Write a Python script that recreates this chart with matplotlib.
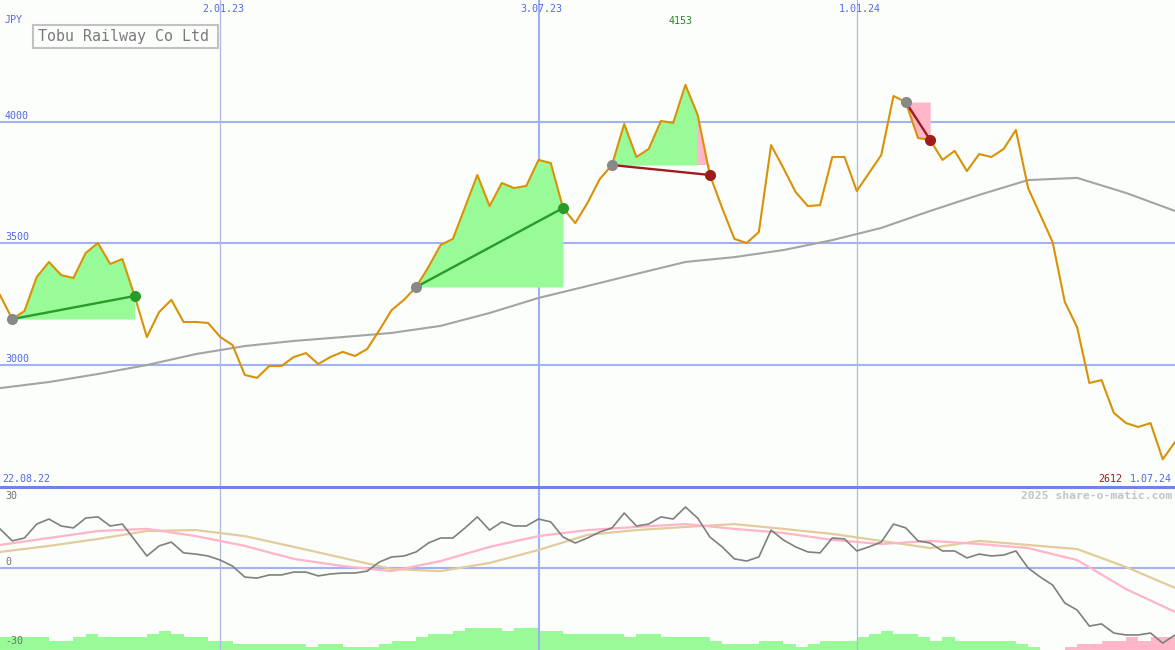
import numpy as np
import pandas as pd
import matplotlib
matplotlib.use("Agg")
import matplotlib.pyplot as plt
import matplotlib.dates as mdates
from matplotlib.patches import Rectangle

# weekly closes, Tobu Railway (JPY), from 29.08.22 to 1.07.24
dates = pd.date_range("2022-08-29", periods=97, freq="7D")
close = [3288, 3189, 3222, 3362, 3424, 3370, 3358, 3461, 3502, 3416,
         3436, 3284, 3115, 3218, 3268, 3177, 3177, 3173, 3115, 3082,
         2959, 2947, 2996, 2996, 3033, 3049, 3004, 3033, 3054, 3037,
         3066, 3144, 3226, 3268, 3321, 3403, 3494, 3519, 3650, 3782,
         3654, 3749, 3728, 3737, 3844, 3831, 3646, 3584, 3667, 3765,
         3823, 3992, 3856, 3889, 4004, 3996, 4153, 4029, 3782, 3646,
         3519, 3502, 3547, 3905, 3811, 3712, 3654, 3658, 3856, 3856,
         3716, 3790, 3864, 4107, 4082, 3934, 3926, 3844, 3881, 3798,
         3868, 3856, 3889, 3967, 3728, 3617, 3506, 3259, 3156, 2926,
         2938, 2803, 2761, 2745, 2761, 2612, 2683]

# long moving average, read every 4 weeks
ma_dates = dates[::4]
ma_long = [2905, 2930, 2963, 3000, 3045, 3078, 3099, 3115, 3132, 3161,
           3214, 3276, 3325, 3375, 3424, 3444, 3473, 3514, 3564, 3634,
           3700, 3761, 3770, 3708, 3634]

# trades: entry / exit dates
trade_entry = ["2022-09-05", "2023-04-24", "2023-08-14", "2024-01-29"]
trade_exit = ["2022-11-14", "2023-07-17", "2023-10-09", "2024-02-12"]

# lower panel oscillator
osc = [16.3, 11.3, 12.5, 18.3, 20.4, 17.5, 16.7, 20.8, 21.3, 17.5,
       18.3, 11.7, 5.0, 9.2, 10.8, 6.3, 5.8, 5.0, 3.3, 0.8,
       -3.8, -4.2, -2.9, -2.9, -1.7, -1.7, -3.3, -2.5, -2.1, -2.1,
       -1.3, 2.5, 4.6, 5.0, 6.7, 10.4, 12.5, 12.5, 16.7, 21.3,
       15.8, 19.2, 17.5, 17.5, 20.4, 19.2, 12.9, 10.4, 12.5, 15.0,
       16.7, 22.9, 17.5, 18.3, 21.3, 20.4, 25.4, 20.8, 12.9, 8.8,
       3.8, 2.9, 4.6, 15.8, 11.7, 8.8, 6.7, 6.3, 12.5, 12.1,
       7.1, 8.8, 10.8, 18.3, 16.7, 11.3, 10.4, 7.1, 7.1, 4.2,
       5.8, 5.0, 5.4, 7.1, 0.0, -3.8, -7.1, -14.6, -17.5, -24.2,
       -23.3, -27.1, -27.9, -27.9, -27.1, -31.3, -27.9]
osc_fast = [9.6, 12.5, 15.4, 16.3, 13.3, 9.2, 3.8, 0.8, -1.3, 2.9,
            8.8, 13.3, 15.8, 17.1, 18.3, 16.3, 14.6, 11.7, 10.0, 11.3,
            10.0, 8.3, 3.3, -8.8, -18.3]
osc_slow = [6.7, 9.2, 12.1, 15.4, 15.8, 13.3, 8.8, 4.2, -0.4, -1.3,
            2.1, 7.5, 13.8, 15.8, 17.1, 18.3, 16.3, 14.2, 11.3, 8.3,
            11.3, 9.6, 7.9, 0.4, -8.3]
bars = [4, 4, 4, 4, 3, 3, 4, 5, 4, 4, 4, 4, 5, 6, 5, 4, 4, 3, 3, 2,
        2, 2, 2, 2, 2, 1, 2, 2, 1, 1, 1, 2, 3, 3, 4, 5, 5, 6, 7, 7,
        7, 6, 7, 7, 6, 6, 5, 5, 5, 5, 5, 4, 5, 5, 4, 4, 4, 4, 3, 2,
        2, 2, 3, 3, 2, 1, 2, 3, 3, 3, 4, 5, 6, 5, 5, 4, 3, 4, 3, 3,
        3, 3, 3, 2, 1, 0, 0, -1, -2, -2, -3, -3, -4, -3, -4, -4]

month_lines = ["2023-01-02", "2023-07-03", "2024-01-01"]
month_labels = ["2.01.23", "3.07.23", "1.01.24"]
price_grid = [3000, 3500, 4000]

BG = "#fbfefb"
GRID = "#a3b1f2"
BLUE_TXT = "#5566ee"
GREEN_FILL = "#98fb98"
PINK_FILL = "#ffb6c8"
MONO = "DejaVu Sans Mono"

W, H = 1175, 650
fig = plt.figure(figsize=(W / 100, H / 100), dpi=100, facecolor=BG)

# ---------------- main price panel ----------------
ax = fig.add_axes([0, 163 / H, 1, 487 / H])
ax.set_facecolor(BG)
ax.set_xlim(dates[0], dates[-1])
ax.set_ylim(2498, 4502)
for s in ax.spines.values():
    s.set_visible(False)
ax.set_xticks([])
ax.set_yticks([])

for v in price_grid:
    ax.axhline(v, color=GRID, lw=1.5, zorder=1)
for d in month_lines:
    mid = d == "2023-07-03"
    ax.axvline(pd.Timestamp(d), color="#9fb0f3" if mid else "#b2b6e2",
               lw=1.5 if mid else 0.9, zorder=1)

close_arr = np.array(close, dtype=float)
xnum = mdates.date2num(dates)
idx = {d: i for i, d in enumerate(dates)}
for e, x in zip(trade_entry, trade_exit):
    i0, i1 = idx[pd.Timestamp(e)], idx[pd.Timestamp(x)]
    seg_x = xnum[i0:i1 + 1]
    seg_p = close_arr[i0:i1 + 1]
    base = seg_p[0]
    ax.fill_between(seg_x, seg_p, base, where=seg_p >= base,
                    color=GREEN_FILL, lw=0, zorder=2)
    ax.fill_between(seg_x, seg_p, base, where=seg_p <= base,
                    color=PINK_FILL, lw=0, zorder=2)
    # week where the price crosses the entry level
    for j in range(len(seg_p) - 1):
        if (seg_p[j] - base) * (seg_p[j + 1] - base) < 0:
            ax.fill([seg_x[j], seg_x[j + 1], seg_x[j + 1], seg_x[j]],
                    [seg_p[j], seg_p[j + 1], base, base],
                    color=PINK_FILL, lw=0, zorder=2)

ax.plot(ma_dates, ma_long, color="#a4a4a4", lw=1.5, zorder=3)
ax.plot(dates, close, color="#d99206", lw=1.5, zorder=4)

for e, x in zip(trade_entry, trade_exit):
    i0, i1 = idx[pd.Timestamp(e)], idx[pd.Timestamp(x)]
    win = close[i1] > close[i0]
    col = "#2a9a2a" if win else "#a01c1c"
    ax.plot([dates[i0], dates[i1]], [close[i0], close[i1]], color=col,
            lw=1.7, zorder=5)
    ax.plot(dates[i0], close[i0], "o", ms=8, color="#888888", mec="none",
            zorder=6)
    ax.plot(dates[i1], close[i1], "o", ms=8, color=col, mec="none", zorder=6)

# ---------------- lower oscillator panel ----------------
ax2 = fig.add_axes([0, 0, 1, 163 / H])
ax2.set_facecolor(BG)
ax2.set_xlim(dates[0], dates[-1])
ax2.set_ylim(-34.17, 33.75)
for s in ax2.spines.values():
    s.set_visible(False)
ax2.set_xticks([])
ax2.set_yticks([])

axb = ax2.twinx()
axb.set_ylim(0, 163 / 3.15)
axb.set_axis_off()
bar_vals = np.array(bars)
bar_cols = [GREEN_FILL if b >= 0 else PINK_FILL for b in bar_vals]
axb.bar(dates[:-1], np.abs(bar_vals), width=7, align="edge",
        color=bar_cols, lw=0, zorder=1)

ax2.axhline(0, color=GRID, lw=1.5, zorder=2)
for d in month_lines:
    mid = d == "2023-07-03"
    ax2.axvline(pd.Timestamp(d), color="#9fb0f3" if mid else "#b2b6e2",
                lw=1.5 if mid else 0.9, zorder=2)
ax2.plot(ma_dates, osc_slow, color="#e3cc9c", lw=1.6, zorder=3)
ax2.plot(ma_dates, osc_fast, color="#ffb4c8", lw=1.6, zorder=3)
ax2.plot(dates, osc, color="#7f7f7f", lw=1.2, zorder=4)
ax2.set_zorder(axb.get_zorder() + 1)
ax2.patch.set_visible(False)

# ---------------- overlay for labels (pixel coordinates) ----------------
ov = fig.add_axes([0, 0, 1, 1], zorder=10)
ov.set_xlim(0, W)
ov.set_ylim(H, 0)
ov.set_axis_off()
ov.patch.set_visible(False)

ov.plot([0, W], [487, 487], color="#7183ea", lw=2.2)

ov.add_patch(Rectangle((33, 25), 185, 23, fill=False, ec="#c2c2c2", lw=1.5))
ov.text(38, 37, "Tobu Railway Co Ltd", family=MONO, fontsize=10.8,
        color="#7a7a7a", va="center", ha="left")

small = dict(family=MONO, fontsize=7.2, va="center")
ov.text(5, 20, "JPY", color=BLUE_TXT, ha="left", **small)
for v in price_grid:
    ypix = 122 + (4000 - v) * 121.5 / 500
    ov.text(5, ypix - 6, str(v), color=BLUE_TXT, ha="left", **small)
for d, lab in zip(month_lines, month_labels):
    frac = (pd.Timestamp(d) - dates[0]) / (dates[-1] - dates[0])
    ov.text(frac * W + 3, 9, lab, color=BLUE_TXT, ha="center", **small)

imax = int(np.argmax(close))
ov.text(imax / 96 * W - 5, 21, str(max(close)), color="#228822",
        ha="center", **small)
ov.text(2, 479, "22.08.22", color=BLUE_TXT, ha="left", **small)
ov.text(1172, 479, "1.07.24", color=BLUE_TXT, ha="right", **small)
ov.text(1122, 479, str(min(close)), color="#a01818", ha="right", **small)
ov.text(1172, 496, "2025 share-o-matic.com", family=MONO, fontsize=8.2,
        fontweight="bold", color="#c4c4c4", ha="right", va="center")
ov.text(5, 496, "30", color="#707070", ha="left", **small)
ov.text(5, 562, "0", color="#707070", ha="left", **small)
ov.text(5, 641, "-30", color="#707070", ha="left", **small)

fig.savefig("out.png", dpi=100, facecolor=BG)
